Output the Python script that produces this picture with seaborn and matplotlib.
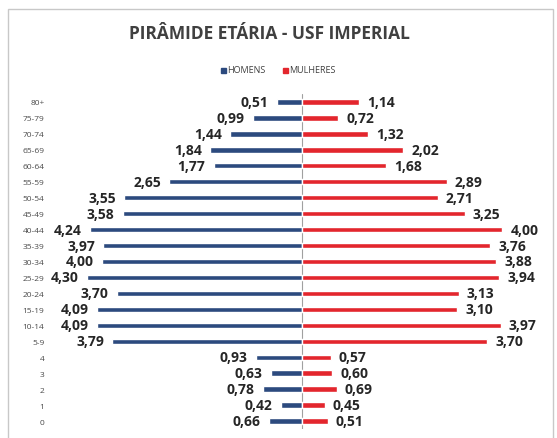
import matplotlib
matplotlib.use("Agg")
import matplotlib.pyplot as plt
import seaborn as sns
import pandas as pd
from matplotlib.patches import Rectangle

# faixas etárias (de cima para baixo)
faixas = ["80+", "75-79", "70-74", "65-69", "60-64", "55-59", "50-54", "45-49",
          "40-44", "35-39", "30-34", "25-29", "20-24", "15-19", "10-14", "5-9",
          "4", "3", "2", "1", "0"]
homens = [0.51, 0.99, 1.44, 1.84, 1.77, 2.65, 3.55, 3.58, 4.24, 3.97, 4.00,
          4.30, 3.70, 4.09, 4.09, 3.79, 0.93, 0.63, 0.78, 0.42, 0.66]
mulheres = [1.14, 0.72, 1.32, 2.02, 1.68, 2.89, 2.71, 3.25, 4.00, 3.76, 3.88,
            3.94, 3.13, 3.10, 3.97, 3.70, 0.57, 0.60, 0.69, 0.45, 0.51]

cor_h = "#2c4a7e"
cor_m = "#e3262d"

df = pd.DataFrame({"faixa": faixas, "homens": [-v for v in homens], "mulheres": mulheres})

sns.set_theme(style="white")
plt.rcParams["font.family"] = ["Open Sans", "DejaVu Sans"]

W, H = 557, 439
fig = plt.figure(figsize=(W / 100, H / 100), dpi=100)
# area do grafico em pixels: x 50..552, y 95..430
ax = fig.add_axes([50 / W, 1 - 430 / H, 502 / W, 335 / H])

sns.barplot(data=df, y="faixa", x="homens", order=faixas, color=cor_h,
            width=0.34, ax=ax, saturation=1, orient="h")
sns.barplot(data=df, y="faixa", x="mulheres", order=faixas, color=cor_m,
            width=0.34, ax=ax, saturation=1, orient="h")

ax.set_xlim(-5.04, 5.0)
ax.set_ylim(len(faixas) - 0.5, -0.5)
ax.axvline(0, color="#a0a0a0", lw=0.8, zorder=0)

# rotulos de dados
for i, (h, m) in enumerate(zip(homens, mulheres)):
    ax.annotate(f"{h:.2f}".replace(".", ","), (-h, i), xytext=(-6, 0),
                textcoords="offset points", ha="right", va="center",
                fontsize=10, fontweight="bold", color="#262626")
    ax.annotate(f"{m:.2f}".replace(".", ","), (m, i), xytext=(6, 0),
                textcoords="offset points", ha="left", va="center",
                fontsize=10, fontweight="bold", color="#262626")

ax.set_xticks([])
ax.set_xlabel("")
ax.set_ylabel("")
ax.tick_params(axis="y", length=0, pad=4, labelsize=6, labelcolor="#4a4a4a")
for s in ax.spines.values():
    s.set_visible(False)

fig.text(269 / W, 1 - 34 / H, "PIRÂMIDE ETÁRIA - USF IMPERIAL", ha="center",
         va="center", fontsize=12.5, fontweight="bold", color="#404040")

# legenda manual
fig.patches.append(Rectangle((221 / W, 1 - 73.5 / H), 5 / W, 5 / H, color=cor_h,
                             transform=fig.transFigure))
fig.text(227 / W, 1 - 71 / H, "HOMENS", ha="left", va="center", fontsize=6.5,
         color="#404040")
fig.patches.append(Rectangle((283 / W, 1 - 73.5 / H), 5 / W, 5 / H, color=cor_m,
                             transform=fig.transFigure))
fig.text(289 / W, 1 - 71 / H, "MULHERES", ha="left", va="center", fontsize=6.5,
         color="#404040")

# moldura do grafico
fig.patches.append(Rectangle((8 / W, -0.01), 545 / W, 1 - 10 / H + 0.01, fill=False,
                             edgecolor="#c8c8c8", lw=1, transform=fig.transFigure))

fig.savefig("out.png", dpi=100, facecolor="white")
